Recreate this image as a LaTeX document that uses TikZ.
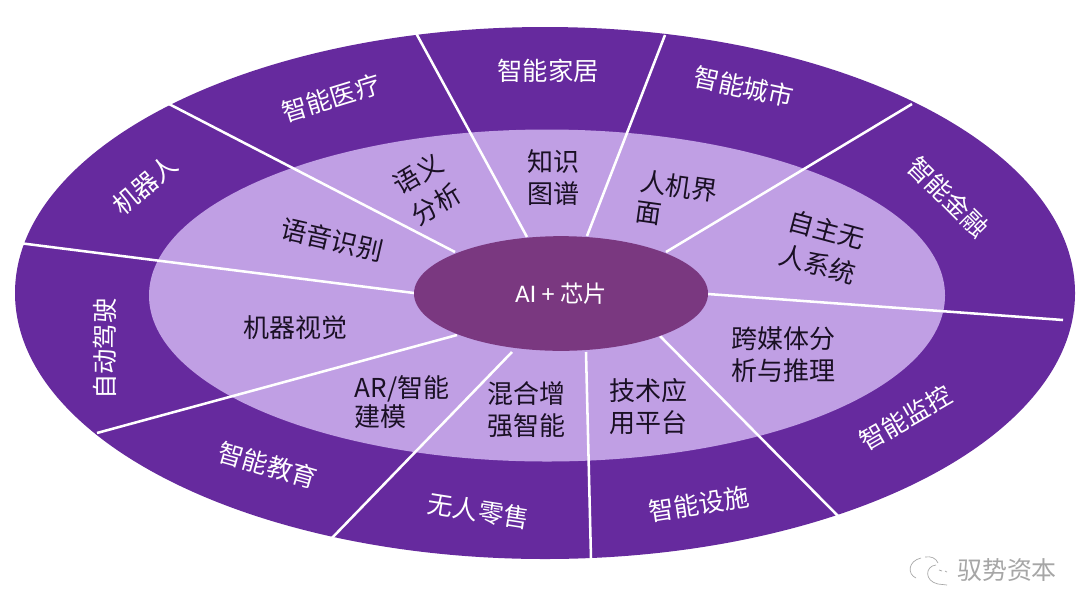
\documentclass[tikz,border=0pt]{standalone}
\usepackage{fontspec}
\setmainfont{Carlito}
\newfontfamily\cjk{Noto Sans CJK SC}
\usetikzlibrary{shapes.geometric}
\definecolor{outerc}{HTML}{662A9E}
\definecolor{midc}{HTML}{C09FE4}
\definecolor{innerc}{HTML}{7A3880}
\definecolor{inktext}{HTML}{1A1024}
\definecolor{wmark}{HTML}{A6A6A6}
\tikzset{
  x=0.75pt,y=-0.75pt,
  band/.style={ellipse,inner sep=0pt,outer sep=0pt,minimum width=#1},
  spoke/.style={draw=white,line width=1.9pt},
  outerlabel/.style={text=white,font=\cjk\fontsize{19}{22}\selectfont},
  midlabel/.style={text=inktext,font=\cjk\fontsize{19.5}{24}\selectfont,align=center,inner sep=0pt},
  midleft/.style={midlabel,align=left,font=\cjk\fontsize{19.5}{22.3}\selectfont},
  midwide/.style={midlabel,font=\cjk\fontsize{19.5}{26.5}\selectfont},
  corelabel/.style={text=white,font=\fontsize{19}{20}\selectfont},
  wmarktext/.style={text=wmark,font=\cjk\fontsize{18.7}{20}\selectfont},
  wmarkline/.style={draw=wmark,line width=0.5pt}
}
\begin{document}
\begin{tikzpicture}
\useasboundingbox (0,0) rectangle (1080,597);
\fill[white] (0,0) rectangle (1080,597);
% bands
\node[band=795pt,minimum height=399pt,fill=outerc] (outerband) at (545,293) {};
\node[band=597pt,minimum height=249pt,fill=midc] (midband) at (547,295.5) {};
% spoke ends
\coordinate (a1) at (587,236);  \coordinate (b1) at (665,35);
\coordinate (a2) at (527,237);  \coordinate (b2) at (416,33);
\coordinate (a3) at (455,252);  \coordinate (b3) at (169,104);
\coordinate (a4) at (414,293);  \coordinate (b4) at (23,243.5);
\coordinate (a5) at (457,335);  \coordinate (b5) at (97,433);
\coordinate (a6) at (512,352);  \coordinate (b6) at (331,539);
\coordinate (a7) at (586,352);  \coordinate (b7) at (591,559);
\coordinate (a8) at (660,336);  \coordinate (b8) at (838,516);
\coordinate (a9) at (708,294);  \coordinate (b9) at (1063,320);
\coordinate (a10) at (666,252); \coordinate (b10) at (912,104);
\foreach \i in {1,...,10} \draw[spoke] (a\i) -- (b\i);
% core
\node[band=220.5pt,minimum height=86pt,fill=innerc,corelabel] (core) at (561,293.5) {\raisebox{0pt}{AI +} {\cjk\fontsize{17.5}{20}\selectfont 芯片}};
% outer labels
\node[outerlabel] (o1) at (548,71) {智能家居};
\node[outerlabel,rotate=-12] (o2) at (744,87) {智能城市};
\node[outerlabel,rotate=-45] (o3) at (948,197) {智能金融};
\node[outerlabel,rotate=30] (o4) at (906,418) {智能监控};
\node[outerlabel,rotate=9] (o5) at (699,504) {智能设施};
\node[outerlabel,rotate=-9] (o6) at (478.5,511) {无人零售};
\node[outerlabel,rotate=-16] (o7) at (268,465) {智能教育};
\node[outerlabel,rotate=90] (o8) at (105,349) {自动驾驶};
\node[outerlabel,rotate=40] (o9) at (145,185) {机器人};
\node[outerlabel,rotate=17] (o10) at (331,98) {智能医疗};
% middle labels
\node[midlabel] (m1) at (553,178) {知识\\图谱};
\node[midleft,rotate=-8] (m2) at (677,201) {人机界\\面};
\node[midwide,rotate=-15] (m3) at (822,247) {自主无\\人系统};
\node[midlabel] (m4) at (783,355) {跨媒体分\\析与推理};
\node[midlabel] (m5) at (648,407) {技术应\\用平台};
\node[midlabel] (m6) at (526,409.5) {混合增\\强智能};
\node[midleft] (m7) at (402,402) {AR/智能\\建模};
\node[midlabel] (m8) at (295,328) {机器视觉};
\node[midlabel,rotate=-13] (m9) at (332,240) {语音识别};
\node[midwide,rotate=31] (m10) at (427,189) {语义\\分析};
% watermark
\node[wmarktext] (wm) at (1007,570) {驭势资本};
\draw[wmarkline] (921,558) .. controls (908,561) and (907,574) .. (916,578);
\draw[wmarkline] (925,557) .. controls (931,556) and (936,558) .. (938,563);
\draw[wmarkline] (936,565) .. controls (925,566) and (924,581) .. (938,584) -- (947,585);
\draw[wmarkline] (939,570) -- (942,571);
\draw[wmarkline] (945,571) -- (947,572);
\end{tikzpicture}
\end{document}
